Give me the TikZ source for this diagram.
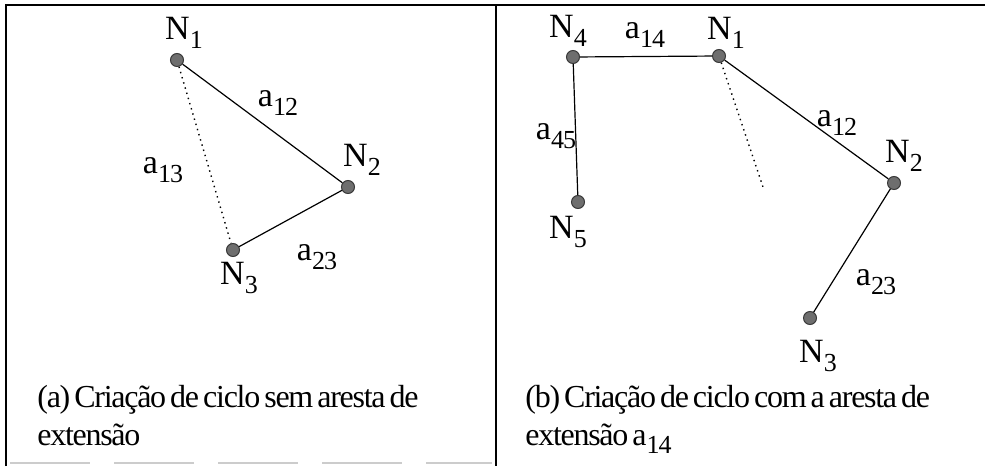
\documentclass[tikz,border=0pt]{standalone}
\usepackage{fontspec}
\usepackage{tikz}
\usetikzlibrary{positioning,calc}
\setmainfont{Liberation Serif}
\newfontfamily\figfont{Liberation Serif}[WordSpace=0.6, LetterSpace=-4]
\definecolor{vtxFill}{HTML}{6E6E6E}
\definecolor{vtxDraw}{HTML}{3A3A3A}
\newcommand{\idx}[1]{\raisebox{-0.55ex}{\fontsize{13}{13}\selectfont #1}}
\tikzset{
    vtx/.style={circle, fill=vtxFill, draw=vtxDraw, line width=0.5pt, minimum size=6.5pt, inner sep=0pt},
    vlabel/.style={font=\figfont\fontsize{17}{17}\selectfont, inner sep=0pt},
    elabel/.style={font=\figfont\fontsize{17}{17}\selectfont, inner sep=0pt},
    edge/.style={line width=0.6pt},
    missing/.style={line width=0.7pt, dotted},
    frame/.style={line width=1.1pt},
    caption/.style={font=\figfont\fontsize{16}{19}\selectfont, align=left, anchor=north west, inner sep=0pt}
}
\begin{document}
\begin{tikzpicture}[x=0.5pt, y=-0.5pt]
\useasboundingbox (0,0) rectangle (985,466);
% frame
\draw[frame] (6,466) -- (6,5) -- (985,5);
\draw[frame] (496,5) -- (496,466);
\draw[gray!40, line width=0.8pt, dash pattern=on 40pt off 12pt] (10,463) -- (492,463);

% (a) cycle without extension edge
\node[vtx] (a1) at (177,60) {};
\node[vtx] (a2) at (348,187) {};
\node[vtx] (a3) at (233,250) {};
\node[vlabel] (la1) at (184,33) {N\idx{1}};
\node[vlabel] (la2) at (362,160) {N\idx{2}};
\node[vlabel] (la3) at (239,278) {N\idx{3}};
\draw[edge] (a1) -- (a2);
\draw[edge] (a2) -- (a3);
\draw[missing] (a1) -- (a3);
\node[elabel] (e12a) at (278,103) {a\idx{12}};
\node[elabel] (e13a) at (163,170) {a\idx{13}};
\node[elabel] (e23a) at (317,257) {a\idx{23}};
\node[caption] (capa) at (37,385) {(a) Criação de ciclo sem aresta de\\extensão};

% (b) cycle with extension edge a14
\node[vtx] (b4) at (573,57) {};
\node[vtx] (b1) at (719,56) {};
\node[vtx] (b5) at (578,202) {};
\node[vtx] (b2) at (894,183) {};
\node[vtx] (b3) at (810,318) {};
\coordinate (bcut) at (764,190);
\node[vlabel] (lb4) at (568,31) {N\idx{4}};
\node[vlabel] (lb1) at (726,33) {N\idx{1}};
\node[vlabel] (lb5) at (568,232) {N\idx{5}};
\node[vlabel] (lb2) at (904,156) {N\idx{2}};
\node[vlabel] (lb3) at (818,356) {N\idx{3}};
\draw[edge] (b4) -- (b1);
\draw[edge] (b4) -- (b5);
\draw[edge] (b1) -- (b2);
\draw[edge] (b2) -- (b3);
\draw[missing] (b1) -- (bcut);
\node[elabel] (e14b) at (645,35) {a\idx{14}};
\node[elabel] (e45b) at (556,136) {a\idx{45}};
\node[elabel] (e12b) at (837,123) {a\idx{12}};
\node[elabel] (e23b) at (876,282) {a\idx{23}};
\node[caption] (capb) at (525,385) {(b) Criação de ciclo com a aresta de\\extensão a\idx{14}};
\end{tikzpicture}
\end{document}
